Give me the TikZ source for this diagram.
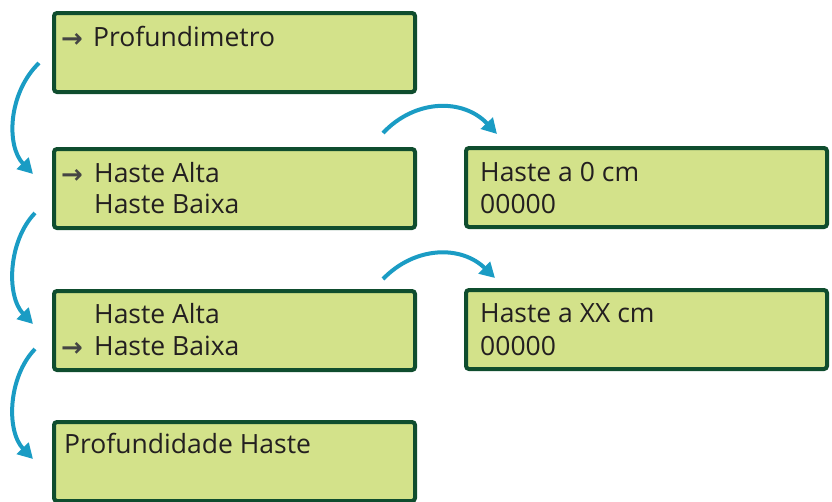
\documentclass[tikz,border=0pt]{standalone}
\usepackage{fontspec}
\setmainfont{Open Sans}
\newfontfamily\symfont{DejaVu Sans}
\usetikzlibrary{arrows.meta}
\definecolor{boxfill}{HTML}{D3E28A}
\definecolor{boxline}{HTML}{0F4D2E}
\definecolor{flow}{HTML}{1A9CC4}
\definecolor{txt}{HTML}{231F20}
\definecolor{pointer}{HTML}{444444}
\tikzset{
  lcd/.style={draw=boxline, fill=boxfill, line width=4pt, rounded corners=3pt,
    minimum width=361pt, minimum height=79pt, anchor=north west, inner sep=0pt},
  lbl/.style={anchor=base west, inner sep=0pt, text=txt, font=\fontsize{26.5}{30}\selectfont},
  ptr/.style={anchor=base west, inner sep=0pt, text=pointer, font=\symfont\bfseries\fontsize{26}{30}\selectfont},
  flowarrow/.style={draw=flow, line width=4pt, -{Triangle[length=15pt,width=16pt]}}
}
\begin{document}
\begin{tikzpicture}[x=1pt,y=-1pt]
\useasboundingbox (0,0) rectangle (832,501);
% boxes
\node[lcd] (b1) at (52,11) {};
\node[lcd] (b2) at (52,147) {};
\node[lcd] (r1) at (464,146) {};
\node[lcd] (b3) at (52,289) {};
\node[lcd] (r2) at (464,288) {};
\node[lcd] (b4) at (52,420) {};
% texts
\node[ptr] (p1) at (61,47) {→};
\node[lbl] (t1) at (93,46) {Profundimetro};
\node[ptr] (p2) at (61,183) {→};
\node[lbl] (t2a) at (94,182) {Haste Alta};
\node[lbl] (t2b) at (94,213) {Haste Baixa};
\node[lbl] (tr1a) at (480,181) {Haste a 0 cm};
\node[lbl] (tr1b) at (480,213) {00000};
\node[lbl] (t3a) at (94,323) {Haste Alta};
\node[ptr] (p3) at (61,356) {→};
\node[lbl] (t3b) at (94,355) {Haste Baixa};
\node[lbl] (tr2a) at (480,322) {Haste a XX cm};
\node[lbl] (tr2b) at (480,355) {00000};
\node[lbl] (t4) at (64,453) {Profundidade Haste};
% arrow ends
\coordinate (a1s) at (39,63);  \coordinate (a1e) at (33,174);
\coordinate (a2s) at (35,213); \coordinate (a2e) at (33,324);
\coordinate (a3s) at (35,349); \coordinate (a3e) at (33,459);
\coordinate (h1s) at (383,133); \coordinate (h1e) at (497,134);
\coordinate (h2s) at (383,279); \coordinate (h2e) at (495,278);
\draw[flowarrow] (a1s) .. controls (8,93) and (6,146) .. (a1e);
\draw[flowarrow] (a2s) .. controls (8,241) and (6,296) .. (a2e);
\draw[flowarrow] (a3s) .. controls (8,377) and (6,431) .. (a3e);
\draw[flowarrow] (h1s) .. controls (415,99) and (463,98) .. (h1e);
\draw[flowarrow] (h2s) .. controls (415,246) and (461,245) .. (h2e);
\end{tikzpicture}
\end{document}
